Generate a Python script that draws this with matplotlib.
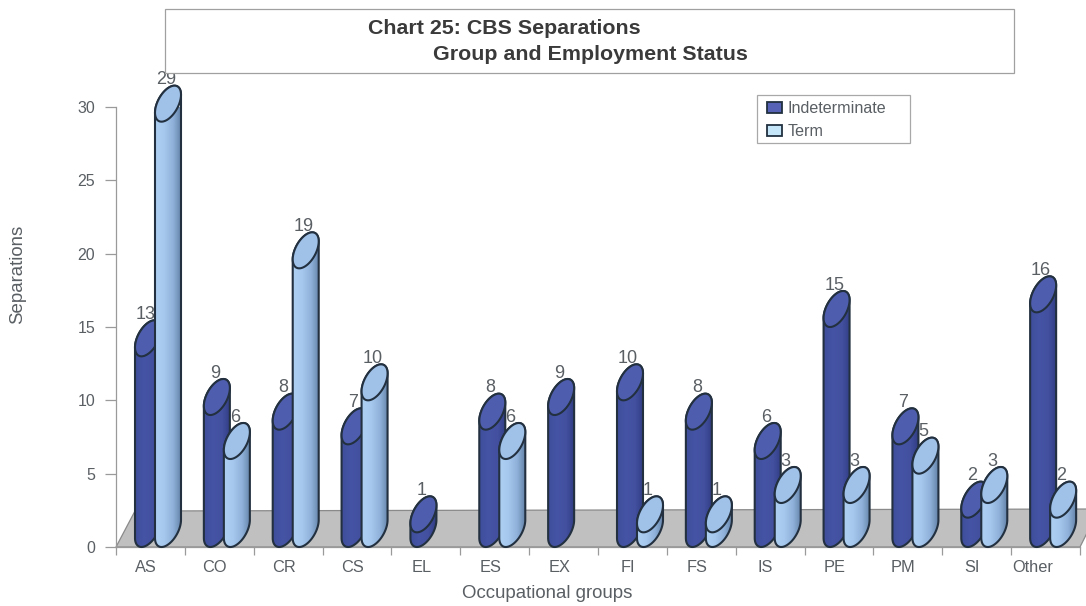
import numpy as np
import matplotlib.pyplot as plt
from matplotlib.patches import Polygon, Rectangle, Patch

plt.rcParams['font.family'] = ['Liberation Sans', 'DejaVu Sans']

groups = ['AS', 'CO', 'CR', 'CS', 'EL', 'ES', 'EX', 'FI', 'FS', 'IS', 'PE', 'PM', 'SI', 'Other']
indeterminate = [13, 9, 8, 7, 1, 8, 9, 10, 8, 6, 15, 7, 2, 16]
term = [29, 6, 19, 10, None, 6, None, 1, 1, 3, 3, 5, 3, 2]
y_ticks = [0, 5, 10, 15, 20, 25, 30]

text_col = '#5a5f64'
line_col = '#9a9a9a'
edge_col = '#22303f'

W, H = 1086, 606
fig = plt.figure(figsize=(W / 100, H / 100), dpi=100, facecolor='white')
ax = fig.add_axes([116 / W, (H - 547) / H, 964 / W, 440 / H])

# pixels to data units
px_x = 14 / 964
px_y = 30 / 440


def cylinder(left, value, cols, top_col, z):
    a = 13 * px_x
    b = 18 * px_y
    cx = left + a
    phi = np.arccos(0.5)
    # base rim (lower half), then the upper half of the top rim
    low = np.linspace(0, -np.pi, 60)
    high = np.linspace(np.pi, 0, 60)
    body = np.column_stack([np.r_[cx + a * np.cos(low), cx + a * np.cos(high)],
                            np.r_[b + b * np.cos(low - phi), value + b + b * np.cos(high - phi)]])
    ax.add_patch(Polygon(body, closed=True, facecolor='none', edgecolor=edge_col, lw=1.5, zorder=z + 0.2,
                         clip_on=False))
    grad = np.array([np.interp(np.linspace(0, 1, 64), [0, 0.35, 0.7, 1], [c[i] for c in cols]) for i in range(3)]).T
    img = ax.imshow(grad[np.newaxis, :, :], extent=[cx - a, cx + a, -1, 34], aspect='auto', zorder=z)
    img.set_clip_path(Polygon(body, closed=True, transform=ax.transData))
    t = np.linspace(0, 2 * np.pi, 121)
    rim = np.column_stack([cx + a * np.cos(t), value + b + b * np.cos(t - phi)])
    ax.add_patch(Polygon(rim, closed=True, facecolor=top_col, edgecolor=edge_col, lw=1.5, zorder=z + 0.3,
                         clip_on=False))
    ax.text(cx - 2 * px_x, value + 42 * px_y, str(value), ha='center', va='center', fontsize=13,
            color=text_col, zorder=z + 0.1, clip_on=False)


def rgb(h):
    return tuple(int(h[i:i + 2], 16) / 255 for i in (1, 3, 5))


ind_cols = [rgb(c) for c in ['#3f4d9c', '#4654a5', '#4350a0', '#323e84']]
term_cols = [rgb(c) for c in ['#aed0f2', '#a6c8ee', '#90b2da', '#6685ab']]

# floor
floor = Polygon([[0, 0], [19 * px_x, 36 * px_y], [14 + 19 * px_x, 38 * px_y], [14, 0]], closed=True,
                facecolor='#c0c0c0', edgecolor='#8a8a8a', lw=0.9, zorder=1, clip_on=False)
ax.add_patch(floor)

z = 2
for i in range(len(groups)):
    start = i + 19 * px_x
    cylinder(start, indeterminate[i], ind_cols, '#4f5dae', z)
    z += 1
    if term[i] is not None:
        cylinder(start + 20 * px_x, term[i], term_cols, '#a0c1e8', z)
    z += 1

ax.set_xlim(0, 14)
ax.set_ylim(0, 30)
ax.patch.set_alpha(0)
for s in ['top', 'right']:
    ax.spines[s].set_visible(False)
for s in ['left', 'bottom']:
    ax.spines[s].set_color(line_col)
    ax.spines[s].set_linewidth(0.9)
    ax.spines[s].set_zorder(1.5)

ax.set_yticks(y_ticks)
ax.set_xticks(np.arange(0, 15))
ax.set_xticklabels([])
ax.tick_params(axis='y', length=8, width=0.9, color=line_col, labelcolor=text_col, labelsize=11.5, pad=7)
ax.tick_params(axis='x', length=6, width=0.9, color=line_col)

for i, g in enumerate(groups):
    shift = -8 * px_x if g == 'Other' else 0
    ax.text(i + 0.435 + shift, -21 * px_y, g, ha='center', va='center', fontsize=11.8, color=text_col, clip_on=False)

fig.text(547 / W, 1 - 593 / H, 'Occupational groups', ha='center', va='center', fontsize=13.4, color=text_col)
fig.text(18 / W, 1 - 274.5 / H, 'Separations', ha='center', va='center', rotation=90, fontsize=13.4, color=text_col)

# title box
fig.add_artist(Rectangle((165 / W, 1 - 73 / H), 849 / W, 64 / H, transform=fig.transFigure, facecolor='white',
                         edgecolor='#a0a0a0', lw=0.9))
fig.text(368 / W, 1 - 28 / H, 'Chart 25: CBS Separations', ha='left', va='center', fontsize=15.4, fontweight='bold',
         color='#3a3a3a')
fig.text(433 / W, 1 - 54 / H, 'Group and Employment Status', ha='left', va='center', fontsize=15.4, fontweight='bold',
         color='#3a3a3a')

# legend box is wider than the legend itself
ax.add_patch(Rectangle((757 / W, 1 - 143 / H), 153 / W, 48 / H, transform=fig.transFigure, facecolor='white',
                       edgecolor='#a8a8a8', lw=0.9, zorder=99, clip_on=False))
handles = [Patch(facecolor='#5562b5', edgecolor=edge_col, lw=1.3, label='Indeterminate'),
           Patch(facecolor='#c5e6f8', edgecolor=edge_col, lw=1.3, label='Term')]
leg = ax.legend(handles=handles, loc='upper left', bbox_to_anchor=(767 / W, 1 - 101 / H),
                bbox_transform=fig.transFigure, frameon=False, fontsize=11.6, labelcolor=text_col,
                handlelength=0.94, handleheight=0.69, handletextpad=0.33, labelspacing=0.5, borderpad=0,
                borderaxespad=0)
leg.set_zorder(100)

fig.savefig('out.png', dpi=100)
